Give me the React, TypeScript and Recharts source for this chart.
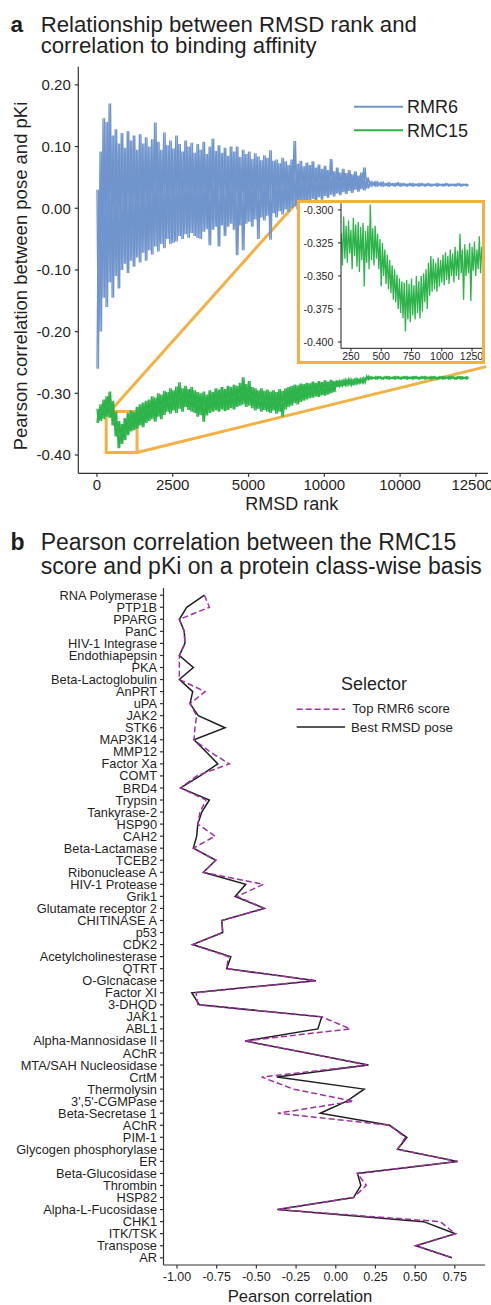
import React from "react";
import {
  LineChart,
  Line,
  XAxis,
  YAxis,
  ReferenceArea,
  ReferenceLine,
} from "recharts";

const FONT = '"Liberation Sans", Arial, Helvetica, sans-serif';
const BLUE = "#7094cc";
const GREEN = "#2db34a";
const ORANGE = "#f2b142";
const PURPLE = "#a0309f";
const INK = "#1f1f1f";
const AXIS = "#333333";

// ─── Panel a: correlation per RMSD rank (upper / lower trace per 100 ranks) ──

const RANK_STEP = 100;

const rmr6High = [
  0.03, 0.092, 0.146, 0.14, 0.17, 0.118, 0.128, 0.105, 0.122, 0.098,
  0.125, 0.11, 0.118, 0.095, 0.12, 0.105, 0.115, 0.1, 0.112, 0.139,
  0.108, 0.095, 0.123, 0.102, 0.11, 0.097, 0.118, 0.104, 0.092, 0.11,
  0.1, 0.106, 0.09, 0.104, 0.095, 0.108, 0.088, 0.1, 0.113, 0.093,
  0.102, 0.09, 0.098, 0.085, 0.1, 0.092, 0.1, 0.083, 0.095, 0.088,
  0.092, 0.08, 0.089, 0.084, 0.078, 0.086, 0.082, 0.094, 0.077, 0.079,
  0.073, 0.082, 0.076, 0.07, 0.079, 0.109, 0.072, 0.077, 0.068, 0.074,
  0.07, 0.076, 0.066, 0.071, 0.064, 0.069, 0.062, 0.08, 0.06, 0.066,
  0.058, 0.064, 0.057, 0.062, 0.055, 0.06, 0.053, 0.058, 0.066, 0.05,
  0.043, 0.042, 0.043, 0.041, 0.042, 0.04, 0.041, 0.04, 0.04, 0.041,
  0.04, 0.04, 0.039, 0.04, 0.04, 0.039, 0.04, 0.04, 0.039, 0.04,
  0.039, 0.039, 0.04, 0.039, 0.039, 0.04, 0.039, 0.039, 0.039, 0.04,
  0.039, 0.039, 0.039,
];

const rmr6Low = [
  -0.26, -0.2, -0.145, -0.16, -0.12, -0.145, -0.11, -0.13, -0.1, -0.09,
  -0.105, -0.085, -0.095, -0.08, -0.088, -0.072, -0.085, -0.068, -0.075, -0.062,
  -0.07, -0.058, -0.065, -0.05, -0.058, -0.056, -0.054, -0.045, -0.05, -0.042,
  -0.048, -0.04, -0.045, -0.048, -0.05, -0.038, -0.034, -0.06, -0.035, -0.03,
  -0.062, -0.028, -0.045, -0.03, -0.025, -0.035, -0.076, -0.028, -0.068, -0.025,
  -0.022, -0.03, -0.018, -0.05, -0.015, -0.02, -0.012, -0.051, -0.008, -0.015,
  -0.005, -0.01, -0.002, -0.006, 0.0, 0.003, -0.002, 0.006, 0.01, 0.004,
  0.012, 0.015, 0.01, 0.018, 0.014, 0.02, 0.017, 0.022, 0.019, 0.024,
  0.021, 0.026, 0.023, 0.028, 0.025, 0.03, 0.027, 0.031, 0.029, 0.032,
  0.036, 0.037, 0.036, 0.037, 0.036, 0.037, 0.036, 0.037, 0.036, 0.037,
  0.036, 0.037, 0.036, 0.037, 0.036, 0.037, 0.036, 0.037, 0.036, 0.037,
  0.036, 0.037, 0.036, 0.037, 0.036, 0.037, 0.036, 0.037, 0.036, 0.037,
  0.036, 0.037, 0.036,
];

const rmc15High = [
  -0.325, -0.318, -0.31, -0.305, -0.297, -0.312, -0.33, -0.345, -0.35, -0.34,
  -0.332, -0.328, -0.33, -0.322, -0.318, -0.315, -0.312, -0.31, -0.305, -0.307,
  -0.3, -0.302, -0.296, -0.298, -0.292, -0.295, -0.289, -0.282, -0.292, -0.288,
  -0.293, -0.29, -0.295, -0.298, -0.3, -0.297, -0.302, -0.295, -0.298, -0.292,
  -0.294, -0.29, -0.293, -0.288, -0.29, -0.286, -0.288, -0.283, -0.274, -0.285,
  -0.28, -0.29, -0.292, -0.295, -0.292, -0.296, -0.294, -0.297, -0.295, -0.298,
  -0.293, -0.296, -0.292, -0.29, -0.288, -0.286, -0.287, -0.284, -0.285, -0.283,
  -0.284, -0.281, -0.283, -0.28, -0.282, -0.279, -0.281, -0.278, -0.28, -0.279,
  -0.28, -0.278, -0.278, -0.277, -0.278, -0.276, -0.277, -0.276, -0.275, -0.272,
  -0.273, -0.274, -0.273, -0.273, -0.274, -0.273, -0.273, -0.274, -0.273, -0.273,
  -0.274, -0.273, -0.273, -0.274, -0.273, -0.273, -0.274, -0.273, -0.273, -0.274,
  -0.273, -0.273, -0.274, -0.273, -0.273, -0.274, -0.273, -0.273, -0.274, -0.273,
  -0.273, -0.274, -0.273,
];

const rmc15Low = [
  -0.348, -0.345, -0.342, -0.338, -0.34, -0.352, -0.37, -0.389, -0.382, -0.376,
  -0.368, -0.362, -0.36, -0.357, -0.352, -0.355, -0.348, -0.345, -0.342, -0.346,
  -0.338, -0.342, -0.335, -0.33, -0.333, -0.328, -0.332, -0.325, -0.33, -0.322,
  -0.327, -0.33, -0.332, -0.338, -0.335, -0.346, -0.336, -0.332, -0.33, -0.328,
  -0.33, -0.326, -0.329, -0.327, -0.324, -0.326, -0.322, -0.32, -0.318, -0.322,
  -0.32, -0.324, -0.328, -0.325, -0.33, -0.327, -0.33, -0.332, -0.328, -0.333,
  -0.33, -0.338, -0.326, -0.322, -0.32, -0.316, -0.318, -0.314, -0.312, -0.31,
  -0.308, -0.307, -0.305, -0.306, -0.303, -0.304, -0.302, -0.3, -0.298, -0.29,
  -0.289, -0.288, -0.287, -0.286, -0.287, -0.285, -0.284, -0.283, -0.283, -0.278,
  -0.277, -0.276, -0.277, -0.276, -0.277, -0.276, -0.277, -0.276, -0.277, -0.276,
  -0.277, -0.276, -0.277, -0.276, -0.277, -0.276, -0.277, -0.276, -0.277, -0.276,
  -0.277, -0.276, -0.277, -0.276, -0.277, -0.276, -0.277, -0.276, -0.277, -0.276,
  -0.277, -0.276, -0.277,
];

const rankTicks = [0, 2500, 5000, 7500, 10000, 12500];
const rankTickLabels = ["0", "2500", "5000", "10000", "10000", "12500"];
const corrTicks = [-0.4, -0.3, -0.2, -0.1, 0, 0.1, 0.2];

// inset: RMC15 zoomed on ranks 170-1330 (upper / lower trace per 20 ranks)
const INSET_START = 170;
const INSET_STEP = 20;

const insetHigh = [
  -0.318, -0.305, -0.312, -0.308, -0.315, -0.306, -0.311, -0.309, -0.313, -0.31,
  -0.316, -0.312, -0.296, -0.314, -0.312, -0.318, -0.322, -0.325, -0.33, -0.334,
  -0.338, -0.342, -0.345, -0.349, -0.352, -0.354, -0.355, -0.353, -0.356, -0.352,
  -0.357, -0.35, -0.354, -0.35, -0.348, -0.345, -0.34, -0.335, -0.337, -0.34,
  -0.336, -0.338, -0.334, -0.332, -0.335, -0.33, -0.333, -0.328, -0.331, -0.318,
  -0.33, -0.326, -0.33, -0.325, -0.328, -0.324, -0.33, -0.32, -0.328,
];

const insetLow = [
  -0.342, -0.337, -0.34, -0.333, -0.345, -0.335, -0.343, -0.347, -0.338, -0.358,
  -0.34, -0.345, -0.338, -0.342, -0.337, -0.345, -0.358, -0.35, -0.356, -0.36,
  -0.363, -0.368, -0.37, -0.375, -0.378, -0.382, -0.392, -0.383, -0.385, -0.38,
  -0.383, -0.378, -0.382, -0.377, -0.37, -0.375, -0.365, -0.362, -0.36, -0.362,
  -0.358, -0.355, -0.357, -0.353, -0.356, -0.35, -0.355, -0.35, -0.353, -0.348,
  -0.368, -0.35, -0.348, -0.369, -0.346, -0.35, -0.345, -0.348, -0.342,
];

const insetRankTicks = [250, 500, 750, 1000, 1250];
const insetCorrTicks = [-0.4, -0.375, -0.35, -0.325, -0.3];

// ─── Panel b: correlation per protein class ─────────────────────────────────

const proteinClasses = [
  "RNA Polymerase", "PTP1B", "PPARG", "PanC", "HIV-1 Integrase",
  "Endothiapepsin", "PKA", "Beta-Lactoglobulin", "AnPRT", "uPA",
  "JAK2", "STK6", "MAP3K14", "MMP12", "Factor Xa",
  "COMT", "BRD4", "Trypsin", "Tankyrase-2", "HSP90",
  "CAH2", "Beta-Lactamase", "TCEB2", "Ribonuclease A", "HIV-1 Protease",
  "Grik1", "Glutamate receptor 2", "CHITINASE A", "p53", "CDK2",
  "Acetylcholinesterase", "QTRT", "O-Glcnacase", "Factor XI", "3-DHQD",
  "JAK1", "ABL1", "Alpha-Mannosidase II", "AChR", "MTA/SAH Nucleosidase",
  "CrtM", "Thermolysin", "3',5'-CGMPase", "Beta-Secretase 1", "AChR",
  "PIM-1", "Glycogen phosphorylase", "ER", "Beta-Glucosidase", "Thrombin",
  "HSP82", "Alpha-L-Fucosidase", "CHK1", "ITK/TSK", "Transpose",
  "AR",
];

const bestRmsdPose = [
  -0.827, -0.939, -0.985, -0.954, -0.95, -0.985, -0.897, -0.985, -0.901, -0.918,
  -0.866, -0.697, -0.893, -0.817, -0.743, -0.855, -0.977, -0.796, -0.844, -0.869,
  -0.876, -0.897, -0.756, -0.834, -0.567, -0.634, -0.45, -0.718, -0.712, -0.901,
  -0.661, -0.687, -0.125, -0.907, -0.859, -0.088, -0.113, -0.571, -0.182, 0.206,
  -0.371, 0.179, 0.07, -0.098, 0.339, 0.448, 0.389, 0.767, 0.137, 0.158,
  0.112, -0.368, 0.553, 0.753, 0.505, 0.732,
];

const topRmr6Score = [
  -0.827, -0.796, -0.985, -0.954, -0.95, -0.985, -0.985, -0.985, -0.823, -0.918,
  -0.876, -0.887, -0.893, -0.792, -0.67, -0.876, -0.977, -0.817, -0.855, -0.869,
  -0.76, -0.897, -0.756, -0.834, -0.456, -0.622, -0.45, -0.718, -0.712, -0.901,
  -0.677, -0.687, -0.125, -0.88, -0.869, -0.088, 0.091, -0.571, -0.182, 0.196,
  -0.466, -0.267, 0.112, -0.365, 0.339, 0.438, 0.389, 0.767, 0.137, 0.192,
  0.112, -0.368, 0.658, 0.753, 0.505, 0.732,
];

const pearsonTicks = [-1, -0.75, -0.5, -0.25, 0, 0.25, 0.5, 0.75];

// alternate the upper and lower trace so the noisy series draws as one line;
// phase 1 swaps the order so two crossing passes fill the band densely
function zigzag(high: number[], low: number[], start: number, step: number, phase = 0) {
  return high.flatMap((h, i) => {
    const a = phase === 0 ? h : low[i];
    const b = phase === 0 ? low[i] : h;
    return [
      { rank: start + i * step, value: a },
      { rank: start + i * step + step / 2, value: b },
    ];
  });
}

const tickStyle = { fill: INK, fontSize: 15 };

function RankPanel() {
  const rmr6A = zigzag(rmr6High, rmr6Low, 0, RANK_STEP, 0);
  const rmr6B = zigzag(rmr6High, rmr6Low, 0, RANK_STEP, 1);
  const rmc15A = zigzag(rmc15High, rmc15Low, 0, RANK_STEP, 0);
  const rmc15B = zigzag(rmc15High, rmc15Low, 0, RANK_STEP, 1);

  return (
    <LineChart
      width={491}
      height={520}
      margin={{ top: 66.7, right: 3, bottom: 16.7, left: 18.3 }}
    >
      <XAxis
        type="number"
        dataKey="rank"
        domain={[-615, 12900]}
        allowDataOverflow
        ticks={rankTicks}
        tickFormatter={(v: number) => rankTickLabels[rankTicks.indexOf(v)]}
        tick={tickStyle}
        stroke={AXIS}
        strokeWidth={1.2}
        tickSize={3.5}
        tickMargin={3}
        height={30}
      />
      <YAxis
        type="number"
        dataKey="value"
        domain={[-0.4297, 0.2295]}
        allowDataOverflow
        ticks={corrTicks}
        tickFormatter={(v: number) => v.toFixed(2)}
        tick={tickStyle}
        stroke={AXIS}
        strokeWidth={1.2}
        tickSize={3.5}
        tickMargin={4}
        width={60}
      />
      <ReferenceArea
        x1={305}
        x2={1323}
        y1={-0.396}
        y2={-0.3297}
        fill="none"
        stroke={ORANGE}
        strokeWidth={3}
        ifOverflow="visible"
      />
      <ReferenceLine
        segment={[
          { x: 427, y: -0.3297 },
          { x: 6667, y: 0.0135 },
        ]}
        stroke={ORANGE}
        strokeWidth={3}
        ifOverflow="visible"
      />
      <ReferenceLine
        segment={[
          { x: 1323, y: -0.396 },
          { x: 12842, y: -0.2567 },
        ]}
        stroke={ORANGE}
        strokeWidth={3}
        ifOverflow="visible"
      />
      <Line data={rmr6A} dataKey="value" type="linear" stroke={BLUE} strokeWidth={1.3} dot={false} isAnimationActive={false} />
      <Line data={rmr6B} dataKey="value" type="linear" stroke={BLUE} strokeWidth={1.3} dot={false} isAnimationActive={false} />
      <Line data={rmc15A} dataKey="value" type="linear" stroke={GREEN} strokeWidth={1.3} dot={false} isAnimationActive={false} />
      <Line data={rmc15B} dataKey="value" type="linear" stroke={GREEN} strokeWidth={1.3} dot={false} isAnimationActive={false} />
    </LineChart>
  );
}

function InsetPanel() {
  const insetData = zigzag(insetHigh, insetLow, INSET_START, INSET_STEP);
  const small = { fill: INK, fontSize: 10.5 };

  return (
    <div
      style={{
        position: "absolute",
        left: 297,
        top: 200,
        width: 188,
        height: 164,
        border: `3px solid ${ORANGE}`,
        boxSizing: "border-box",
        background: "#ffffff",
      }}
    >
      <LineChart
        width={182}
        height={158}
        data={insetData}
        margin={{ top: 0.3, right: 0, bottom: 0, left: 0 }}
      >
        <XAxis
          type="number"
          dataKey="rank"
          domain={[168, 1332]}
          allowDataOverflow
          ticks={insetRankTicks}
          tick={small}
          stroke={INK}
          tickSize={3}
          tickMargin={1.7}
          height={12.7}
        />
        <YAxis
          type="number"
          domain={[-0.4048, -0.295]}
          allowDataOverflow
          ticks={insetCorrTicks}
          tickFormatter={(v: number) => v.toFixed(3)}
          tick={small}
          stroke={INK}
          tickSize={3}
          tickMargin={4.7}
          width={41}
        />
        <Line
          dataKey="value"
          type="linear"
          stroke={GREEN}
          strokeWidth={1.3}
          dot={false}
          isAnimationActive={false}
        />
      </LineChart>
    </div>
  );
}

// plain tick text so long class names never wrap
function ClassTick(props: any) {
  const { x, y, payload } = props;
  return (
    <text x={x} y={y} dy="0.355em" textAnchor="end" fontSize={12.8} fill={INK}>
      {proteinClasses[payload.value]}
    </text>
  );
}

function ClassPanel() {
  const rows = proteinClasses.map((name, idx) => ({
    idx,
    name,
    best: bestRmsdPose[idx],
    top: topRmr6Score[idx],
  }));

  return (
    <div style={{ position: "absolute", left: 0, top: 560 }}>
      <LineChart
        layout="vertical"
        width={491}
        height={745}
        data={rows}
        margin={{ top: 28, right: 6, bottom: 15, left: 13.5 }}
      >
        <XAxis
          type="number"
          domain={[-1.085, 0.94]}
          allowDataOverflow
          ticks={pearsonTicks}
          tickFormatter={(v: number) => v.toFixed(2)}
          tick={{ fill: INK, fontSize: 12.5 }}
          stroke={AXIS}
          strokeWidth={1.2}
          tickSize={3.5}
          tickMargin={4}
          height={25}
        />
        <YAxis
          type="number"
          dataKey="idx"
          domain={[-0.6, 55.6]}
          allowDataOverflow
          ticks={rows.map((r) => r.idx)}
          interval={0}
          tick={<ClassTick />}
          stroke={AXIS}
          strokeWidth={1.2}
          tickSize={3.5}
          tickMargin={3}
          width={150}
        />
        <Line
          dataKey="best"
          type="linear"
          stroke={INK}
          strokeWidth={1.5}
          dot={false}
          isAnimationActive={false}
        />
        <Line
          dataKey="top"
          type="linear"
          stroke={PURPLE}
          strokeWidth={1.5}
          strokeDasharray="6 3"
          dot={false}
          isAnimationActive={false}
        />
      </LineChart>
    </div>
  );
}

function Annotations() {
  return (
    <svg
      width={491}
      height={1305}
      style={{ position: "absolute", left: 0, top: 0, pointerEvents: "none" }}
      fontFamily={FONT}
      fill={INK}
    >
      {/* panel a */}
      <text x={10.5} y={31.7} fontSize={22.5} fontWeight="bold">a</text>
      <text x={40.7} y={31.7} fontSize={22.2}>Relationship between RMSD rank and</text>
      <text x={40.7} y={52.7} fontSize={22.2}>correlation to binding affinity</text>
      <text transform="translate(26.7 276) rotate(-90)" textAnchor="middle" fontSize={18.5}>
        Pearson correlation between pose and pKi
      </text>
      <text x={291.7} y={509.7} textAnchor="middle" fontSize={18}>RMSD rank</text>
      <line x1={354} x2={403} y1={106.7} y2={106.7} stroke={BLUE} strokeWidth={2} />
      <text x={407} y={113} fontSize={18}>RMR6</text>
      <line x1={354} x2={403} y1={130.3} y2={130.3} stroke={GREEN} strokeWidth={2} />
      <text x={407} y={136.7} fontSize={18}>RMC15</text>

      {/* panel b */}
      <text x={10.5} y={549.5} fontSize={23} fontWeight="bold">b</text>
      <text x={40.7} y={549.5} fontSize={23}>Pearson correlation between the RMC15</text>
      <text x={40.7} y={574} fontSize={23}>score and pKi on a protein class-wise basis</text>
      <text x={374} y={690} textAnchor="middle" fontSize={18}>Selector</text>
      <line x1={296.7} x2={345} y1={709.3} y2={709.3} stroke={PURPLE} strokeWidth={1.6} strokeDasharray="6 3" />
      <text x={352.3} y={713.3} fontSize={13.1}>Top RMR6 score</text>
      <line x1={296.7} x2={345} y1={727} y2={727} stroke={INK} strokeWidth={1.6} />
      <text x={351} y={731.7} fontSize={13.3}>Best RMSD pose</text>
      <text x={300} y={1302} textAnchor="middle" fontSize={16.7}>Pearson correlation</text>
    </svg>
  );
}

export default function App() {
  return (
    <div
      style={{
        position: "absolute",
        left: 0,
        top: 0,
        width: 491,
        height: 1305,
        background: "#ffffff",
        fontFamily: FONT,
        overflow: "hidden",
      }}
    >
      <div style={{ position: "absolute", left: 0, top: 0 }}>
        <RankPanel />
      </div>
      <InsetPanel />
      <ClassPanel />
      <Annotations />
    </div>
  );
}
